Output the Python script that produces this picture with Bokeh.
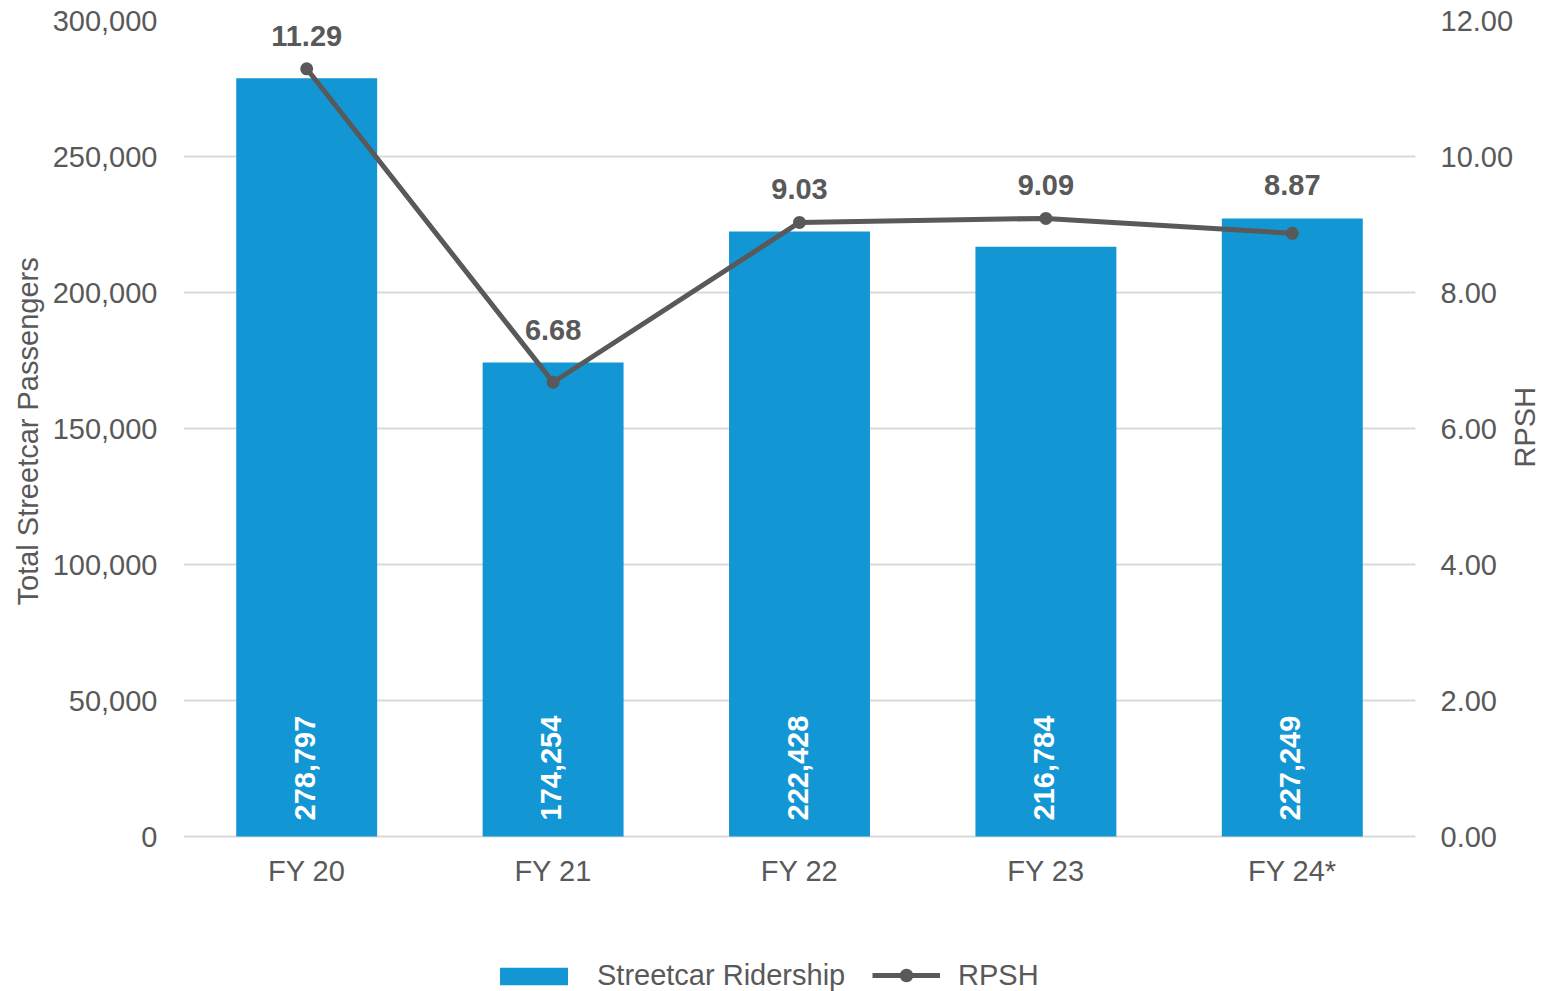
import math
from bokeh.plotting import figure
from bokeh.models import (ColumnDataSource, Range1d, LinearAxis, FactorRange, Legend,
                          LegendItem, NumeralTickFormatter, FixedTicker, Title)
from bokeh.core.properties import value
from bokeh.embed import file_html
from bokeh.resources import INLINE

categories = ["FY 20", "FY 21", "FY 22", "FY 23", "FY 24*"]
ridership = [278797, 174254, 222428, 216784, 227249]
rpsh = [11.29, 6.68, 9.03, 9.09, 8.87]
left_ticks = [0, 50000, 100000, 150000, 200000, 250000, 300000]
right_ticks = [0, 2, 4, 6, 8, 10, 12]
LEFT_MAX = 300000
RIGHT_MAX = 12
LEFT_TITLE = "Total Streetcar Passengers"
RIGHT_TITLE = "RPSH"

FONT = "Liberation Sans"
GRAY = "#595959"
BLUE = "#1396D4"
GRID = "#D9D9D9"
FS = "29px"

# layout (pixels): value area is 816 px tall, with 155 px of space below zero
AREA_H = 816
BELOW_H = 155
below_frac = BELOW_H / AREA_H
RIGHT_TITLE_START_PX = 369   # where the rotated right title starts, px above zero

p = figure(width=1560, height=991,
           x_range=FactorRange(*categories, range_padding=0),
           y_range=Range1d(-LEFT_MAX * below_frac, LEFT_MAX),
           output_backend="svg", toolbar_location=None,
           min_border_left=183, min_border_right=145,
           min_border_top=20, min_border_bottom=0)
p.extra_y_ranges = {"r": Range1d(-RIGHT_MAX * below_frac, RIGHT_MAX)}
p.outline_line_color = None
p.background_fill_color = "white"
p.border_fill_color = "white"
p.xgrid.grid_line_color = None
p.ygrid.grid_line_color = GRID
p.ygrid.grid_line_width = 2
p.ygrid.ticker = FixedTicker(ticks=left_ticks)

ya = p.yaxis[0]
ya.ticker = FixedTicker(ticks=left_ticks)
ya.formatter = NumeralTickFormatter(format="0,0")

ra = LinearAxis(y_range_name="r", ticker=FixedTicker(ticks=right_ticks),
                formatter=NumeralTickFormatter(format="0.00"))
p.add_layout(ra, "right")

# right axis title (reads bottom-to-top like the reference)
rt_pos = RIGHT_MAX * RIGHT_TITLE_START_PX / AREA_H
ra2 = LinearAxis(y_range_name="r", ticker=FixedTicker(ticks=[rt_pos]),
                 major_label_overrides={rt_pos: RIGHT_TITLE},
                 major_label_orientation=math.pi / 2)
p.add_layout(ra2, "right")

xa = p.xaxis[0]
xa.fixed_location = 0

for ax in [ya, ra, ra2, xa]:
    ax.axis_line_color = None
    ax.major_tick_line_color = None
    ax.minor_tick_line_color = None
    ax.major_tick_out = 0
    ax.major_tick_in = 0
    ax.minor_tick_out = 0
    ax.minor_tick_in = 0
    ax.major_label_text_font = FONT
    ax.major_label_text_font_size = FS
    ax.major_label_text_color = GRAY
ya.major_label_standoff = 26
ra.major_label_standoff = 25
ra2.major_label_standoff = 8
xa.major_label_standoff = 18

# left axis title
lt = Title(text=LEFT_TITLE, align="left", offset=386, standoff=11,
           text_font=FONT, text_font_size=FS, text_font_style="normal",
           text_color=GRAY)
p.add_layout(lt, "left")

src = ColumnDataSource(dict(
    cat=categories, rid=ridership, rpsh=rpsh,
    rid_lbl=[f"{v:,}" for v in ridership],
    rpsh_lbl=[f"{v:.2f}" for v in rpsh],
    lbl_y=[max(r, b * RIGHT_MAX / LEFT_MAX) for r, b in zip(rpsh, ridership)],
    zero=[0] * len(categories),
))

bars = p.vbar(x="cat", top="rid", width=0.572, source=src, fill_color=BLUE, line_color=None)
line = p.line(x="cat", y="rpsh", source=src, y_range_name="r", line_color=GRAY, line_width=5)
dots = p.scatter(x="cat", y="rpsh", source=src, y_range_name="r", size=13,
                 fill_color=GRAY, line_color=None)

p.text(x="cat", y="zero", text="rid_lbl", source=src, angle=math.pi / 2,
       text_align="left", text_baseline="middle", y_offset=-16, x_offset=-2,
       text_color="white", text_font=value(FONT), text_font_style="bold",
       text_font_size=FS)
p.text(x="cat", y="lbl_y", text="rpsh_lbl", source=src, y_range_name="r",
       text_align="center", text_baseline="alphabetic", y_offset=-33,
       text_color=GRAY, text_font=value(FONT), text_font_style="bold",
       text_font_size=FS)

def mk_legend(items, loc, gw, gh, standoff):
    lg = Legend(items=items, location=loc, orientation="horizontal",
                glyph_width=gw, glyph_height=gh, label_standoff=standoff,
                padding=0, margin=0, border_line_color=None,
                background_fill_alpha=0,
                label_text_font=FONT, label_text_font_size=FS,
                label_text_color=GRAY)
    p.add_layout(lg, "center")
    return lg

mk_legend([LegendItem(label="Streetcar Ridership", renderers=[bars])], (308, -1), 85, 22, 21)
mk_legend([LegendItem(label="RPSH", renderers=[line, dots])], (689, -1), 68, 34, 18)

open("out.html", "w").write(file_html(p, INLINE))
